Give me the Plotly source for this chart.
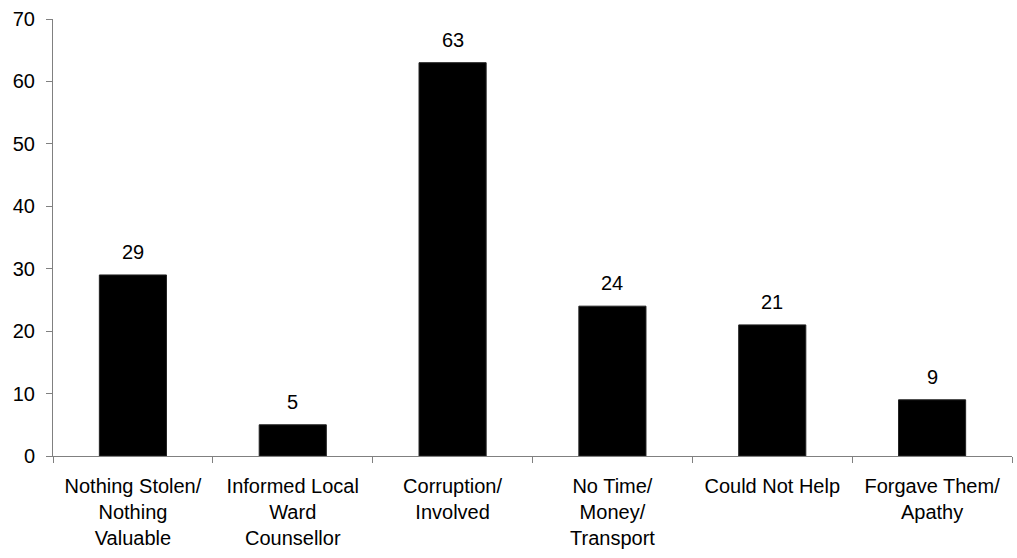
import plotly.graph_objects as go

categories = ["Nothing Stolen/<br>Nothing<br>Valuable", "Informed Local<br>Ward<br>Counsellor",
              "Corruption/<br>Involved", "No Time/<br>Money/<br>Transport",
              "Could Not Help", "Forgave Them/<br>Apathy"]
values = [29, 5, 63, 24, 21, 9]
y_ticks = [0, 10, 20, 30, 40, 50, 60, 70]

fig = go.Figure()
fig.add_trace(go.Bar(
    x=categories, y=values, width=0.42,
    marker=dict(color="black", line=dict(color="#222222", width=1)),
))

for c, v in zip(categories, values):
    fig.add_annotation(x=c, y=v, text=str(v), showarrow=False, yanchor="bottom",
                       yshift=10, font=dict(family="Liberation Sans, Arial", size=20, color="black"))

fig.update_layout(
    width=1017, height=558,
    margin=dict(l=53, r=5, t=19, b=102, autoexpand=False),
    paper_bgcolor="white", plot_bgcolor="white",
    font=dict(family="Liberation Sans, Arial", size=20, color="black"),
    showlegend=False,
)
fig.update_xaxes(
    automargin=False,
    showline=True, linecolor="#808080", linewidth=1,
    ticks="outside", tickson="boundaries", ticklen=6, tickcolor="#808080",
    showgrid=False, tickfont=dict(size=20), ticklabelstandoff=12,
)
fig.update_yaxes(
    automargin=False,
    range=[0, 70], tickvals=y_ticks, showline=True, linecolor="#808080", linewidth=1,
    ticks="outside", ticklen=6, tickcolor="#808080", showgrid=False, zeroline=False,
    tickfont=dict(size=20), ticklabelstandoff=7,
)

fig.write_html("out.html", config={"displayModeBar": False},
               post_script="document.body.style.margin='0';")
